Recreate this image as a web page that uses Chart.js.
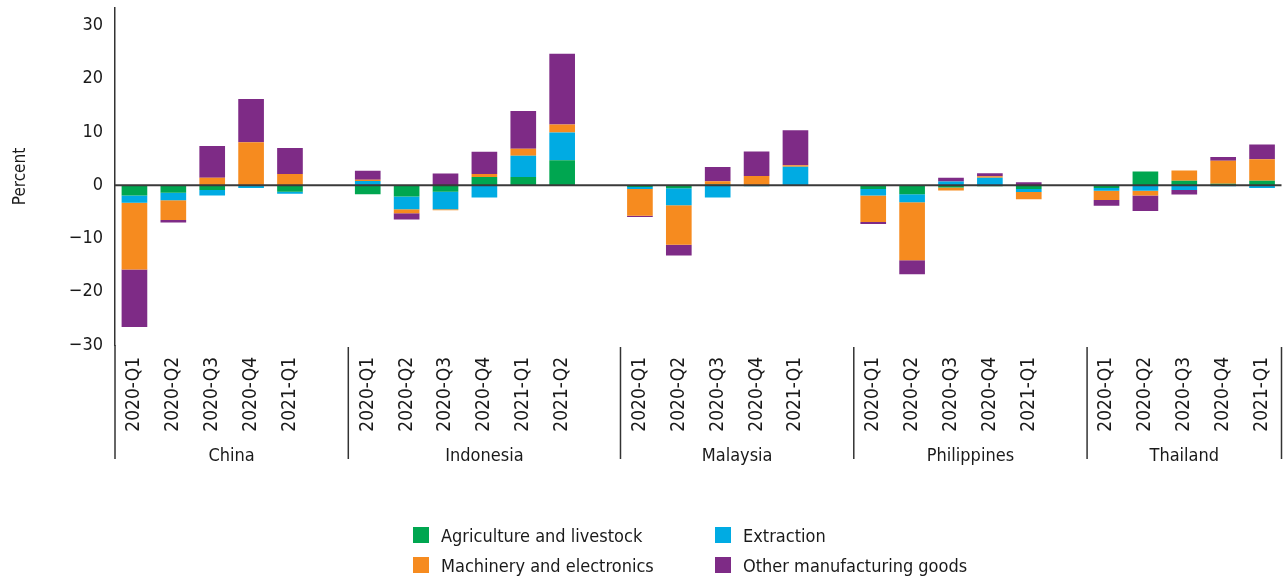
<!DOCTYPE html>
<html>
<head>
<meta charset="utf-8">
<script src="https://cdn.jsdelivr.net/npm/chart.js@4.4.1/dist/chart.umd.min.js"></script>
<style>
  html, body { margin: 0; padding: 0; background: #fff; }
  #wrap { position: relative; width: 1286px; height: 581px; }
  .item { position: absolute; display: flex; align-items: center; height: 20px;
          font: 18px "DejaVu Sans Condensed", "DejaVu Sans", sans-serif; color: #1a1a1a; }
  .item span { display: inline-block; width: 16px; height: 16px; margin-right: 12px; }
</style>
</head>
<body>
<div id="wrap">
  <canvas id="chart" width="1286" height="581"></canvas>
  <div id="legend"></div>
</div>
<script>
const groups = ["China", "Indonesia", "Malaysia", "Philippines", "Thailand"];
const quarters5 = ["2020-Q1", "2020-Q2", "2020-Q3", "2020-Q4", "2021-Q1"];
const quarters6 = ["2020-Q1", "2020-Q2", "2020-Q3", "2020-Q4", "2021-Q1", "2021-Q2"];
const groupQuarters = [quarters5, quarters6, quarters5, quarters5, quarters5];

const seriesNames = ["Agriculture and livestock", "Extraction", "Machinery and electronics", "Other manufacturing goods"];
const seriesColors = ["#00a650", "#00abe3", "#f68b1f", "#7e2b86"];

// China | Indonesia | Malaysia | Philippines | Thailand
const agriculture = [-1.9, -1.4, -0.9, -0.1, -1.2,  -1.7, -2.1, -1.2, 1.55, 1.55, 4.7,  -0.3, -0.55, 0.15, 0, 0,  -0.7, -1.7, -0.4, -0.2, -0.7,  -0.5, 2.6, 0.87, 0.3, 0.87];
const extraction = [-1.4, -1.4, -1.0, -0.4, -0.4,  0.8, -2.4, -3.3, -2.3, 4.0, 5.2,  -0.4, -3.2, -2.3, -0.2, 3.5,  -1.2, -1.5, 0.7, 1.4, -0.55,  -0.55, -1.05, -0.87, -0.2, -0.5];
const machinery = [-12.5, -3.7, 1.4, 8.1, 2.1,  0.25, -0.75, -0.2, 0.55, 1.3, 1.5,  -5.0, -7.4, 0.6, 1.75, 0.25,  -5.0, -10.9, -0.6, 0.3, -1.35,  -1.7, -0.87, 1.9, 4.3, 4.0];
const otherGoods = [-10.8, -0.5, 6.0, 8.1, 4.9,  1.7, -1.2, 2.2, 4.2, 7.1, 13.3,  -0.25, -2.05, 2.7, 4.6, 6.6,  -0.37, -2.6, 0.7, 0.55, 0.55,  -1.1, -2.9, -0.87, 0.7, 2.8];

const yTicks = [-30, -20, -10, 0, 10, 20, 30];

const FONT = '"DejaVu Sans Condensed", "DejaVu Sans", sans-serif';
const TEXT = "#1a1a1a";

// labels with an empty slot before every group except the first
const labels = [];
const groupStart = [];
groupQuarters.forEach((qs, gi) => {
  if (gi > 0) labels.push("");
  groupStart.push(labels.length);
  qs.forEach((q) => labels.push(q));
});

function spread(values) {
  const out = [];
  let k = 0;
  groupQuarters.forEach((qs, gi) => {
    if (gi > 0) out.push(null);
    qs.forEach(() => out.push(values[k++]));
  });
  return out;
}

const seriesValues = [agriculture, extraction, machinery, otherGoods];

const groupAxis = {
  id: "groupAxis",
  afterDatasetsDraw(chart) {
    const { ctx, chartArea } = chart;
    const y0 = chart.scales.y.getPixelForValue(0);
    ctx.save();
    ctx.strokeStyle = "#3a3a3a";
    ctx.lineWidth = 2;
    ctx.beginPath();
    ctx.moveTo(chartArea.left, y0);
    ctx.lineTo(chartArea.right, y0);
    ctx.stroke();
    ctx.restore();
  },
  afterDraw(chart) {
    const { ctx, chartArea } = chart;
    const x = chart.scales.x;
    const slot = x.getPixelForValue(1) - x.getPixelForValue(0);
    const edges = groupStart.map((i) => x.getPixelForValue(i) - slot / 2);
    edges.push(chartArea.right);
    ctx.save();
    ctx.strokeStyle = "#333";
    ctx.lineWidth = 1.5;
    edges.forEach((ex, i) => {
      ctx.beginPath();
      ctx.moveTo(ex, i === 0 ? chartArea.bottom : chartArea.bottom + 2);
      ctx.lineTo(ex, 459);
      ctx.stroke();
    });
    ctx.fillStyle = TEXT;
    ctx.font = "18px " + FONT;
    ctx.textAlign = "center";
    ctx.textBaseline = "middle";
    groups.forEach((g, i) => {
      ctx.fillText(g, (edges[i] + edges[i + 1]) / 2, 456);
    });
    ctx.restore();
  },
};

new Chart(document.getElementById("chart"), {
  type: "bar",
  data: {
    labels,
    datasets: seriesNames.map((name, i) => ({
      label: name,
      data: spread(seriesValues[i]),
      backgroundColor: seriesColors[i],
      borderWidth: 0,
      barPercentage: 0.66,
      categoryPercentage: 1,
    })),
  },
  options: {
    responsive: false,
    animation: false,
    layout: { padding: { top: 8, right: 4.5, left: 0, bottom: 0 } },
    plugins: { legend: { display: false }, tooltip: { enabled: false } },
    scales: {
      x: {
        stacked: true,
        grid: { display: false },
        border: { display: false },
        ticks: {
          autoSkip: false,
          maxRotation: 90,
          minRotation: 90,
          padding: 4,
          color: TEXT,
          font: { family: FONT, size: 19 },
        },
        afterFit: (scale) => {
          scale.height = 236;
          scale.paddingLeft = 0;
          scale.paddingRight = 0;
        },
      },
      y: {
        stacked: true,
        min: -30,
        max: 33.3,
        grid: { display: false },
        border: { display: true, color: "#333", width: 1.5 },
        afterBuildTicks: (scale) => { scale.ticks = yTicks.map((v) => ({ value: v })); },
        ticks: {
          padding: 4,
          color: TEXT,
          font: { family: FONT, size: 18 },
          callback: (v) => String(v).replace("-", "\u2212"),
        },
        title: {
          display: true,
          text: "Percent",
          color: TEXT,
          font: { family: FONT, size: 17 },
          padding: { top: 10, bottom: 0 },
        },
        afterFit: (scale) => {
          scale.width = 115;
          scale.paddingTop = 0;
          scale.paddingBottom = 0;
        },
      },
    },
  },
  plugins: [groupAxis],
});

// legend: two columns, filled row by row
const legendCols = [413, 715];
const legendRows = [535, 565];
const legend = document.getElementById("legend");
seriesNames.forEach((name, i) => {
  const el = document.createElement("div");
  el.className = "item";
  el.style.left = legendCols[i % 2] + "px";
  el.style.top = (legendRows[Math.floor(i / 2)] - 10) + "px";
  el.innerHTML = '<span style="background:' + seriesColors[i] + '"></span>' + name;
  legend.appendChild(el);
});
</script>
</body>
</html>
